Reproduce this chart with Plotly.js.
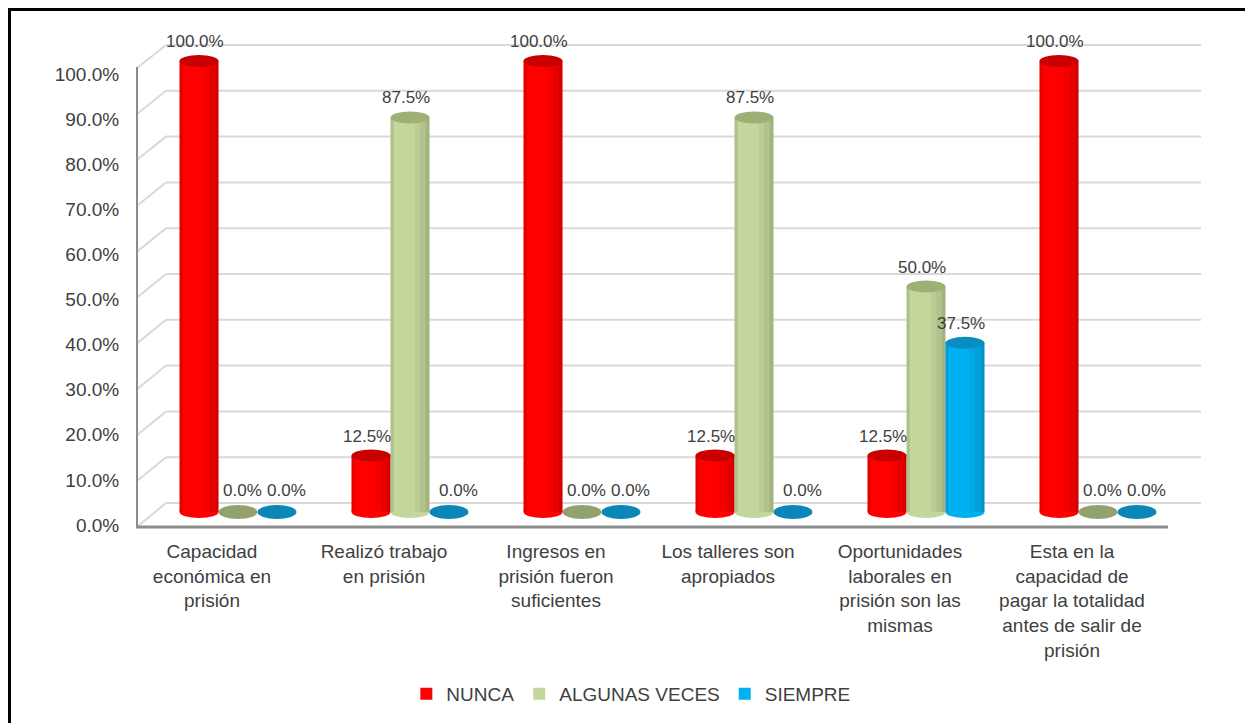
<!DOCTYPE html>
<html><head><meta charset="utf-8">
<script src="https://cdn.plot.ly/plotly-3.0.1.min.js"></script>
<style>
html,body{margin:0;padding:0;background:#fff;overflow:hidden;}
#chart{width:1245px;height:723px;}
#frame{position:absolute;left:8px;top:8px;width:1245px;height:723px;border-left:3px solid #000;border-top:3px solid #000;pointer-events:none;}
</style>
</head><body><div id="chart"></div><div id="frame"></div>
<script>
// ---- data ----
const categories = [
  'Capacidad<br>económica en<br>prisión',
  'Realizó trabajo<br>en prisión',
  'Ingresos en<br>prisión fueron<br>suficientes',
  'Los talleres son<br>apropiados',
  'Oportunidades<br>laborales en<br>prisión son las<br>mismas',
  'Esta en la<br>capacidad de<br>pagar la totalidad<br>antes de salir de<br>prisión'
];
const seriesNames = ['NUNCA', 'ALGUNAS VECES', 'SIEMPRE'];
const nunca        = [1.0, 0.125, 1.0, 0.125, 0.125, 1.0];
const algunasVeces = [0.0, 0.875, 0.0, 0.875, 0.5,   0.0];
const siempre      = [0.0, 0.0,   0.0, 0.0,   0.375, 0.0];
const yTickVals = [0, 0.1, 0.2, 0.3, 0.4, 0.5, 0.6, 0.7, 0.8, 0.9, 1.0];

// ---- styles ----
const seriesValues = [nunca, algunasVeces, siempre];
const barColors = ['#ff0000', '#c3d69b', '#00b0f0'];
const capColors = ['#c80000', '#9fb076', '#0a8dc0'];
const flatColors = ['#c80000', '#93a16e', '#0a86b8'];
const shade = [[0, 0.08, 0.10], [0.62, 0.76, 0.04], [0.76, 0.9, 0.09], [0.9, 1.0, 0.16]];
const FONT = '"Liberation Sans", Arial, sans-serif';
const TXT = '#404040';
const bargap = 0.32;
const w = (1 - bargap) / 3;

const traces = seriesValues.map((vals, k) => ({
  type: 'bar',
  name: seriesNames[k],
  x: categories,
  y: vals,
  marker: {color: barColors[k], line: {width: 0}},
  hoverinfo: 'skip'
}));

// 3D frame (depth offsets in px, positive = up)
const shapes = [];
const backOff = v => 9 + 7 * v;
const frontOff = v => -15 + 8 * v;
yTickVals.forEach(v => {
  shapes.push({type: 'line', layer: 'below', xref: 'paper', xsizemode: 'pixel', xanchor: 0, x0: 14, x1: 1049,
    yref: 'y', ysizemode: 'pixel', yanchor: v, y0: backOff(v), y1: backOff(v), line: {color: '#d9d9d9', width: 2}});
  shapes.push({type: 'line', layer: 'below', xref: 'paper', xsizemode: 'pixel', xanchor: 0, x0: -15, x1: 14,
    yref: 'y', ysizemode: 'pixel', yanchor: v, y0: frontOff(v), y1: backOff(v), line: {color: '#d9d9d9', width: 2}});
});
shapes.push({type: 'line', layer: 'below', xref: 'paper', xsizemode: 'pixel', xanchor: 0, x0: -15, x1: -15,
  yref: 'y', ysizemode: 'pixel', yanchor: 0, y0: frontOff(0), y1: frontOff(0) + 460, line: {color: '#8c8c8c', width: 2}});
shapes.push({type: 'line', layer: 'below', xref: 'paper', xsizemode: 'pixel', xanchor: 0, x0: -16, x1: 1016,
  yref: 'y', ysizemode: 'pixel', yanchor: 0, y0: frontOff(0), y1: frontOff(0), line: {color: '#8c8c8c', width: 3}});

// cylinder ends, shading and labels
const annotations = [];
const zeroShift = [2, 4, 10];
seriesValues.forEach((vals, k) => {
  vals.forEach((v, i) => {
    const xc = i + (k - 1) * w;
    const xl = xc - w / 2;
    if (v > 0) {
      shapes.push({type: 'circle', layer: 'below', xref: 'x', x0: xl, x1: xl + w,
        yref: 'y', ysizemode: 'pixel', yanchor: 0, y0: -6, y1: 6, fillcolor: barColors[k], line: {width: 0}});
      shade.forEach(s => {
        shapes.push({type: 'rect', layer: 'above', xref: 'x', x0: xl + s[0] * w, x1: xl + s[1] * w,
          yref: 'y', y0: 0, y1: v, fillcolor: 'rgba(0,0,0,' + s[2] + ')', line: {width: 0}});
      });
      shapes.push({type: 'circle', layer: 'above', xref: 'x', x0: xl, x1: xl + w,
        yref: 'y', ysizemode: 'pixel', yanchor: v, y0: -6, y1: 6, fillcolor: capColors[k], line: {width: 0}});
    } else {
      shapes.push({type: 'circle', layer: 'above', xref: 'x', x0: xl, x1: xl + w,
        yref: 'y', ysizemode: 'pixel', yanchor: v, y0: -7, y1: 7, fillcolor: flatColors[k], line: {width: 0}});
    }
    annotations.push({x: xc, y: v, xref: 'x', yref: 'y', text: (v * 100).toFixed(1) + '%',
      showarrow: false, yanchor: 'bottom', yshift: v > 0 ? 8 : 10, xshift: v > 0 ? -4 : zeroShift[k],
      font: {family: FONT, size: 17, color: TXT}});
  });
});

const layout = {
  width: 1245, height: 723,
  margin: {l: 152, r: 61, t: 43, b: 192},
  paper_bgcolor: '#ffffff', plot_bgcolor: 'rgba(0,0,0,0)',
  barmode: 'group', bargap: bargap, bargroupgap: 0,
  font: {family: FONT, color: TXT, size: 19},
  showlegend: true,
  legend: {orientation: 'h', x: 0.464, xanchor: 'center', y: -0.334, yanchor: 'middle',
    font: {family: FONT, size: 19, color: TXT}, traceorder: 'normal'},
  xaxis: {type: 'category', range: [-0.5, 5.5], showgrid: false, zeroline: false, showline: false,
    ticks: 'outside', ticklen: 4, tickcolor: 'rgba(0,0,0,0)', tickangle: 0, ticklabelshift: -26,
    tickfont: {family: FONT, size: 19, color: TXT}},
  yaxis: {range: [-0.04, 1.04], tickvals: yTickVals, tickformat: '.1%', showgrid: false, zeroline: false, showline: false,
    ticks: 'outside', ticklen: 28, tickcolor: 'rgba(0,0,0,0)', ticklabelshift: 13,
    tickfont: {family: FONT, size: 19, color: TXT}},
  shapes: shapes,
  annotations: annotations
};

Plotly.newPlot('chart', traces, layout, {displayModeBar: false, staticPlot: true});
</script>
</body></html>
